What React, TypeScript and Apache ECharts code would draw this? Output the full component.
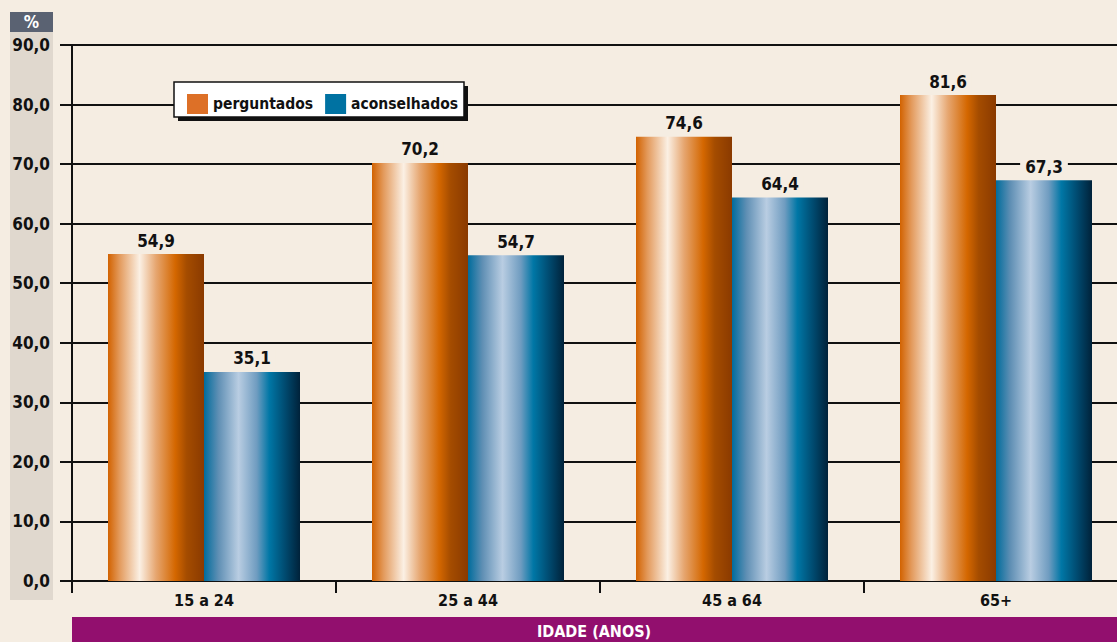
import React, { useEffect, useRef } from "react";
import * as echarts from "echarts";

const categories = ["15 a 24", "25 a 44", "45 a 64", "65+"];
const perguntados = [54.9, 70.2, 74.6, 81.6];
const aconselhados = [35.1, 54.7, 64.4, 67.3];
const seriesNames = ["perguntados", "aconselhados"];
const yUnit = "%";
const xTitle = "IDADE (ANOS)";

const FONT = "'DejaVu Sans Condensed', 'DejaVu Sans', sans-serif";
const BG = "#f5ede2";
const fmt = (v: number) => v.toFixed(1).replace(".", ",");

const orangeGrad = new echarts.graphic.LinearGradient(0, 0, 1, 0, [
  { offset: 0, color: "#d26200" },
  { offset: 0.12, color: "#e39a5c" },
  { offset: 0.33, color: "#fbf0e4" },
  { offset: 0.5, color: "#e6a670" },
  { offset: 0.7, color: "#d46700" },
  { offset: 0.82, color: "#a44c00" },
  { offset: 1, color: "#8a3a00" },
]);
const blueGrad = new echarts.graphic.LinearGradient(0, 0, 1, 0, [
  { offset: 0, color: "#006c9c" },
  { offset: 0.15, color: "#5f8fb4" },
  { offset: 0.36, color: "#b9cde2" },
  { offset: 0.55, color: "#6f9cc0" },
  { offset: 0.68, color: "#0077a6" },
  { offset: 0.85, color: "#00496e" },
  { offset: 1, color: "#00223a" },
]);

export default function App() {
  const ref = useRef<HTMLDivElement>(null);
  useEffect(() => {
    document.body.style.margin = "0";
    document.body.style.overflow = "hidden";
    document.body.style.background = BG;
    const chart = echarts.init(ref.current!, undefined, { renderer: "svg" });
    const labelCommon = {
      show: true,
      position: "top" as const,
      distance: 5,
      formatter: (p: any) => fmt(p.value),
      fontFamily: FONT,
      fontWeight: "bold" as const,
      fontSize: 17,
      color: "#111",
      backgroundColor: BG,
      padding: [0, 5, 0, 5],
    };
    chart.setOption({
      animation: false,
      backgroundColor: BG,
      textStyle: { fontFamily: FONT },
      grid: { left: 72, top: 45, bottom: 61, width: 1056 },
      legend: {
        left: 182,
        top: 89,
        z: 20,
        itemWidth: 21,
        itemHeight: 20,
        itemGap: 12,
        icon: "rect",
        textStyle: { fontFamily: FONT, fontWeight: "bold", fontSize: 15.5, color: "#111" },
        data: [
          { name: seriesNames[0], itemStyle: { color: "#dd7027" } },
          { name: seriesNames[1], itemStyle: { color: "#0072a2" } },
        ],
      },
      xAxis: {
        type: "category",
        data: categories,
        axisLine: { lineStyle: { color: "#111", width: 2 } },
        axisTick: { show: true, length: 12, lineStyle: { color: "#111", width: 2 } },
        axisLabel: {
          color: "#111",
          fontFamily: FONT,
          fontWeight: "bold",
          fontSize: 16,
          margin: 11,
        },
      },
      yAxis: {
        type: "value",
        min: 0,
        max: 90,
        interval: 10,
        axisLine: { show: true, lineStyle: { color: "#111", width: 2 } },
        axisTick: { show: true, length: 12, lineStyle: { color: "#111", width: 2 } },
        splitLine: { show: true, lineStyle: { color: "#111", width: 2 } },
        axisLabel: {
          formatter: (v: number) => fmt(v),
          color: "#111",
          fontFamily: FONT,
          fontWeight: "bold",
          fontSize: 17,
          margin: 22,
        },
      },
      graphic: [
        { type: "rect", z: -10, shape: { x: 10, y: 32, width: 43, height: 568 }, style: { fill: "#e0d8ce" } },
        { type: "rect", z: -10, shape: { x: 10, y: 12, width: 43, height: 20 }, style: { fill: "#5a6272" } },
        {
          type: "text",
          z: 5,
          x: 31.5,
          y: 22,
          style: {
            text: yUnit,
            fill: "#fff",
            font: `bold 17px ${FONT}`,
            align: "center",
            verticalAlign: "middle",
          },
        },
        { type: "rect", z: 15, shape: { x: 178, y: 86, width: 290, height: 35 }, style: { fill: "#111" } },
        {
          type: "rect",
          z: 16,
          shape: { x: 174, y: 82, width: 290, height: 35 },
          style: { fill: "#fff", stroke: "#111", lineWidth: 1.5 },
        },
        { type: "rect", z: 5, shape: { x: 72, y: 617, width: 1070, height: 25 }, style: { fill: "#920f6e" } },
        {
          type: "text",
          z: 6,
          x: 594,
          y: 631,
          style: {
            text: xTitle,
            fill: "#fff",
            font: `bold 16px ${FONT}`,
            align: "center",
            verticalAlign: "middle",
          },
        },
      ],
      series: [
        {
          name: seriesNames[0],
          type: "bar",
          data: perguntados,
          barWidth: 96,
          barGap: "0%",
          itemStyle: { color: orangeGrad },
          label: labelCommon,
          z: 3,
        },
        {
          name: seriesNames[1],
          type: "bar",
          data: aconselhados,
          barWidth: 96,
          barGap: "0%",
          itemStyle: { color: blueGrad },
          label: labelCommon,
          z: 3,
        },
      ],
    });
    return () => chart.dispose();
  }, []);
  return (
    <div
      ref={ref}
      style={{ position: "fixed", left: 0, top: 0, width: 1140, height: 642 }}
    />
  );
}
